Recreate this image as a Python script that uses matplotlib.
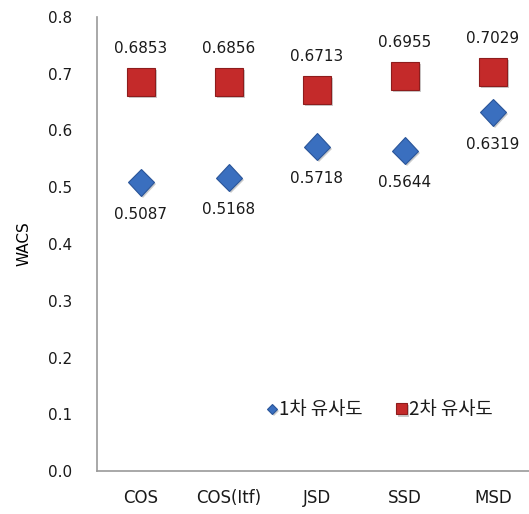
import matplotlib
matplotlib.use("Agg")
import matplotlib.pyplot as plt
import matplotlib.patheffects as pe

plt.rcParams['font.family'] = ['Noto Sans CJK KR', 'DejaVu Sans']

# similarity measures and WACS scores
measures = ['COS', 'COS(Itf)', 'JSD', 'SSD', 'MSD']
first_sim = [0.5087, 0.5168, 0.5718, 0.5644, 0.6319]
second_sim = [0.6853, 0.6856, 0.6713, 0.6955, 0.7029]
series_names = ['1차 유사도', '2차 유사도']

blue = '#3a6fbf'
red = '#c42a2a'

fig = plt.figure(figsize=(5.29, 5.14), dpi=100)
ax = fig.add_axes([97 / 529, 43 / 514, 1 - 97 / 529, 454 / 514])

x = range(len(measures))
shadow = [pe.SimplePatchShadow(offset=(1.5, -1.5), shadow_rgbFace='#999999', alpha=0.5), pe.Normal()]

ax.plot(x, first_sim, linestyle='none', marker='D', markersize=13.5,
        color=blue, markeredgecolor='#2a5599', markeredgewidth=0.8,
        path_effects=shadow, label=series_names[0])
ax.plot(x, second_sim, linestyle='none', marker='s', markersize=20,
        color=red, markeredgecolor='#8e1c1c', markeredgewidth=0.8,
        path_effects=shadow, label=series_names[1])

for i, v in enumerate(first_sim):
    ax.annotate(f'{v:.4f}', (i, v), xytext=(0, -23), textcoords='offset points',
                ha='center', va='center', fontsize=11, family='DejaVu Sans', color='#1a1a1a')
for i, v in enumerate(second_sim):
    ax.annotate(f'{v:.4f}', (i, v), xytext=(0, 24), textcoords='offset points',
                ha='center', va='center', fontsize=11, family='DejaVu Sans', color='#1a1a1a')

ax.set_xlim(-0.5, 4.41)
ax.set_ylim(0, 0.8)
ax.set_yticks([i / 10 for i in range(9)])
ax.set_yticklabels([f'{i / 10:.1f}' for i in range(9)], family='DejaVu Sans')
ax.set_xticks(list(x))
ax.set_xticklabels(measures, family='DejaVu Sans', fontsize=12)
ax.tick_params(axis='both', length=0, labelsize=11, colors='#1a1a1a')
ax.tick_params(axis='x', labelsize=12, pad=13)
ax.tick_params(axis='y', pad=18)
ax.set_ylabel('WACS', fontsize=11, family='DejaVu Sans', labelpad=12)

for side in ['top', 'right']:
    ax.spines[side].set_visible(False)
for side in ['left', 'bottom']:
    ax.spines[side].set_color('#999999')
    ax.spines[side].set_linewidth(1.2)

leg = ax.legend(loc='center', bbox_to_anchor=(380 / 529, 1 - 410 / 514),
                bbox_transform=fig.transFigure,
                ncol=2, frameon=False, fontsize=13.5, markerscale=0.4,
                handlelength=0.5, handletextpad=0.15, columnspacing=1.8)
for t in leg.get_texts():
    t.set_color('#1a1a1a')

fig.savefig('out.png', dpi=100)
